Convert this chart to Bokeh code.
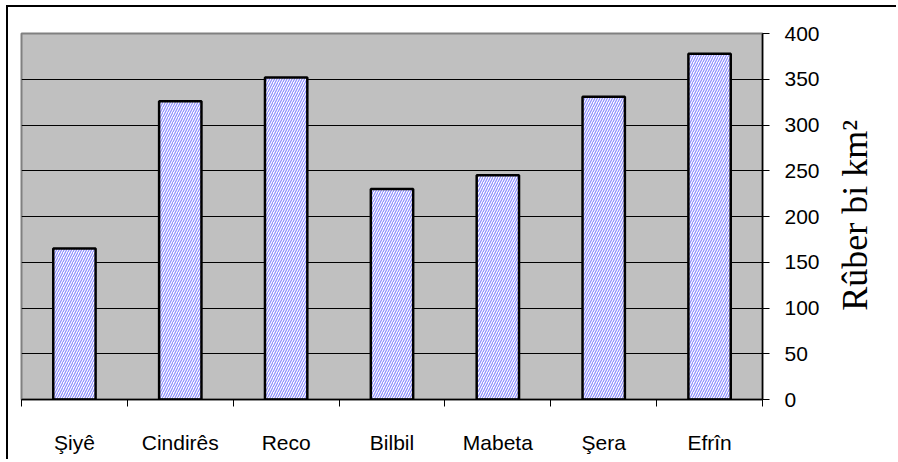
import math
from bokeh.plotting import figure
from bokeh.models import ColumnDataSource, FixedTicker, Range1d, LinearAxis
from bokeh.embed import file_html
from bokeh.resources import INLINE

categories = ["Şiyê", "Cindirês", "Reco", "Bilbil", "Mabeta", "Şera", "Efrîn"]
values = [165, 326, 352, 230, 245, 331, 378]
y_ticks = [0, 50, 100, 150, 200, 250, 300, 350, 400]
y_title = "Rûber bi km²"

xs = [i + 0.5 for i in range(len(categories))]
src = ColumnDataSource(dict(x=xs, top=values))

p = figure(width=890, height=454, output_backend="svg", toolbar_location=None,
           x_range=Range1d(0, len(categories)), y_range=Range1d(0, 400),
           y_axis_location="right",
           min_border_left=13, min_border_top=26, min_border_right=135, min_border_bottom=62)

p.background_fill_color = "#c0c0c0"
p.border_fill_color = "white"
p.outline_line_color = "#808080"
p.outline_line_width = 2

p.vbar(x="x", top="top", width=0.4, bottom=0, source=src,
       fill_color="white", hatch_pattern="/", hatch_color="#8c8cff",
       hatch_scale=5, hatch_weight=1.2,
       line_color="black", line_width=2.5)

# x axis: labels at centres, ticks at boundaries
p.xaxis.ticker = FixedTicker(ticks=xs, minor_ticks=list(range(len(categories) + 1)))
p.xaxis.major_label_overrides = {x: c for x, c in zip(xs, categories)}
p.xaxis.major_tick_line_color = None
p.xaxis.minor_tick_out = 7
p.xaxis.minor_tick_in = 0
p.xaxis.minor_tick_line_color = "black"
p.xaxis.axis_line_color = "black"
p.xaxis.axis_line_width = 1.5
p.xaxis.major_label_text_font = "Liberation Sans"
p.xaxis.major_label_text_font_size = "21px"
p.xaxis.major_label_text_color = "black"
p.xaxis.major_label_standoff = 24

p.yaxis.ticker = FixedTicker(ticks=y_ticks)
p.yaxis.minor_tick_line_color = None
p.yaxis.major_tick_out = 7
p.yaxis.major_tick_in = 0
p.yaxis.major_tick_line_color = "black"
p.yaxis.axis_line_color = "black"
p.yaxis.axis_line_width = 1.5
p.yaxis.major_label_text_font = "Liberation Sans"
p.yaxis.major_label_text_font_size = "21px"
p.yaxis.major_label_text_color = "black"
p.yaxis.major_label_standoff = 15

# title axis: an invisible axis whose single rotated tick label carries the y title,
# anchored at its start (bottom) so it reads bottom-to-top like the reference
title_start = 97
title_axis = LinearAxis(ticker=FixedTicker(ticks=[title_start]),
                        major_label_overrides={title_start: y_title},
                        major_label_orientation=math.pi / 2,
                        major_label_text_font="Liberation Serif",
                        major_label_text_font_size="36px",
                        major_label_text_color="black",
                        major_label_standoff=33,
                        axis_line_color=None, major_tick_line_color=None,
                        minor_tick_line_color=None, major_tick_out=0, major_tick_in=0)
p.add_layout(title_axis, "right")

p.xgrid.visible = False
p.ygrid.grid_line_color = "black"
p.ygrid.grid_line_width = 1.2

p.styles = {"border-left": "2px solid black", "border-top": "2px solid black",
            "margin-left": "6px", "margin-top": "5px"}

open("out.html", "w").write(file_html(p, INLINE))
